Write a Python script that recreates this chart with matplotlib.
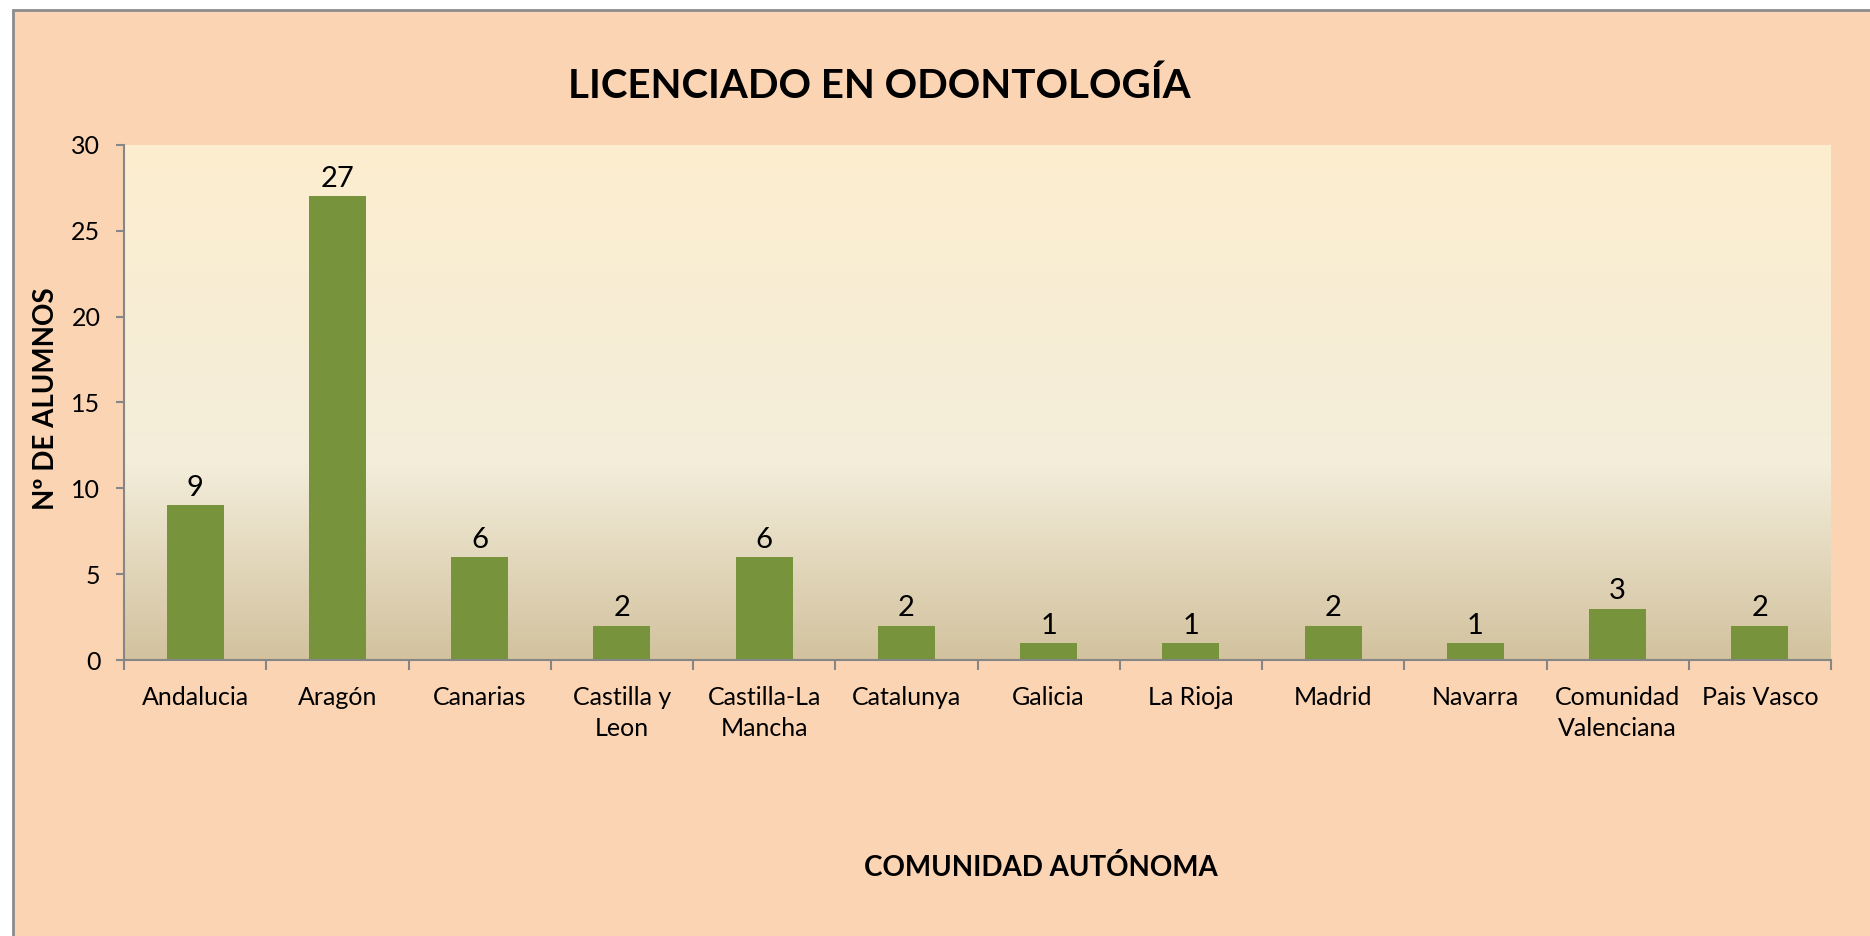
import matplotlib
matplotlib.use("Agg")
import matplotlib.pyplot as plt
import numpy as np
from matplotlib.colors import LinearSegmentedColormap
from matplotlib.patches import Rectangle

plt.rcParams['font.family'] = ['Lato', 'DejaVu Sans']

categories = ["Andalucia", "Aragón", "Canarias", "Castilla y\nLeon", "Castilla-La\nMancha",
              "Catalunya", "Galicia", "La Rioja", "Madrid", "Navarra",
              "Comunidad\nValenciana", "Pais Vasco"]
values = [9, 27, 6, 2, 6, 2, 1, 1, 2, 1, 3, 2]
yticks = [0, 5, 10, 15, 20, 25, 30]

title = "LICENCIADO EN ODONTOLOGÍA"
ylabel = "Nº DE ALUMNOS"
xlabel = "COMUNIDAD AUTÓNOMA"

W, H = 1870, 936
fig = plt.figure(figsize=(W / 100, H / 100), dpi=100)
fig.patch.set_facecolor("white")

# chart area background with border
bg = Rectangle((12.5 / W, -0.1), 2, 1.1 - 10.5 / H, transform=fig.transFigure,
               facecolor="#FBD4B4", edgecolor="#8C8C8C", linewidth=2, zorder=-5)
fig.patches.append(bg)

ax = fig.add_axes([124 / W, (936 - 660) / H, (1831 - 124) / W, (660 - 145) / H])
ax.set_facecolor("none")
ax.set_zorder(1)

x = np.arange(len(categories))
ax.set_xlim(-0.5, len(categories) - 0.5)
ax.set_ylim(0, 30)

# gradient fill of plot area
cmap = LinearSegmentedColormap.from_list(
    "parch", [(0.0, "#D2C29E"), (0.38, "#F3EDDA"), (1.0, "#FDEECF")])
grad = np.linspace(0, 1, 256).reshape(-1, 1)
ax.imshow(grad, extent=[-0.5, len(categories) - 0.5, 0, 30], origin="lower",
          aspect="auto", cmap=cmap, zorder=0)

bars = ax.bar(x, values, width=0.4, color="#77933C", zorder=2)
for xi, v in zip(x, values):
    ax.annotate(str(v), (xi, v), xytext=(0, 3), textcoords="offset points",
                ha="center", va="bottom", fontsize=21, color="black", zorder=3)

for side in ["top", "right"]:
    ax.spines[side].set_visible(False)
for side in ["left", "bottom"]:
    ax.spines[side].set_color("#868686")
    ax.spines[side].set_linewidth(1.5)
    ax.spines[side].set_zorder(4)

ax.set_yticks(yticks)
ax.set_yticklabels([str(t) for t in yticks], fontsize=18)
ax.tick_params(axis="y", direction="out", length=6, width=1.5, color="#868686", pad=11)

ax.set_xticks(x)
ax.set_xticklabels(categories, fontsize=18, linespacing=1.42)
ax.tick_params(axis="x", which="major", length=0, pad=19)
ax.set_xticks(np.arange(-0.5, len(categories), 1.0), minor=True)
ax.tick_params(axis="x", which="minor", direction="out", length=7, width=1.5, color="#868686")

fig.text(879 / W, 1 - 86 / H, title, ha="center", va="center",
         fontsize=29, fontweight="bold")
fig.text(46 / W, 1 - 399 / H, ylabel, ha="center", va="center", rotation=90,
         fontsize=20, fontweight="bold")
fig.text(1041 / W, 1 - 867 / H, xlabel, ha="center", va="center",
         fontsize=20, fontweight="bold")

fig.savefig("out.png", dpi=100)
